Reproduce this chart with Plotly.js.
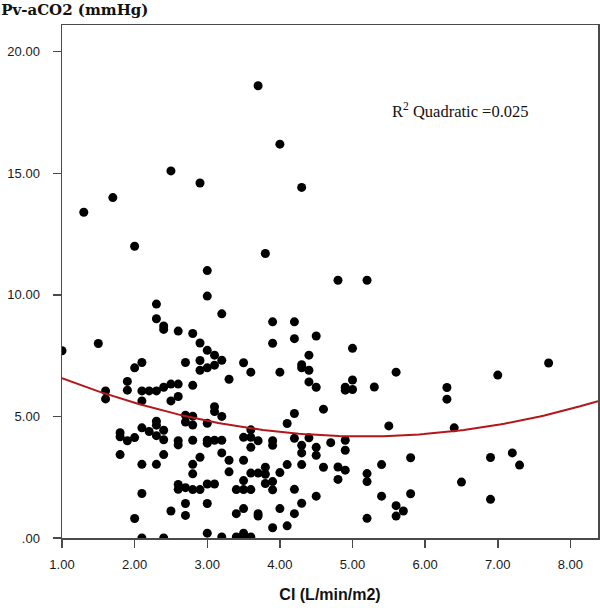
<!DOCTYPE html>
<html>
<head>
<meta charset="utf-8">
<script src="https://cdn.plot.ly/plotly-3.0.1.min.js"></script>
<style>html,body{margin:0;padding:0;background:#fff;}#chart{width:600px;height:608px;}</style>
</head>
<body>
<div id="chart"></div>
<script>
// CI (L/min/m2)
const ciValues = [
  1.0, 1.3, 1.5, 1.6, 1.6, 1.7, 1.8, 1.8, 1.8, 1.9, 1.9, 1.9,
  2.0, 2.0, 2.0, 2.0,
  2.1, 2.1, 2.1, 2.1, 2.1, 2.1, 2.1,
  2.2, 2.2,
  2.3, 2.3, 2.3, 2.3, 2.3, 2.3, 2.3,
  2.4, 2.4, 2.4, 2.4, 2.4, 2.4, 2.4,
  2.5, 2.5, 2.5, 2.5,
  2.6, 2.6, 2.6, 2.6, 2.6, 2.6, 2.6,
  2.7, 2.7, 2.7, 2.7, 2.7, 2.7,
  2.8, 2.8, 2.8, 2.8, 2.8, 2.8, 2.8, 2.8,
  2.9, 2.9, 2.9, 2.9, 2.9, 2.9,
  3.0, 3.0, 3.0, 3.0, 3.0, 3.0, 3.0, 3.0, 3.0, 3.0,
  3.1, 3.1, 3.1, 3.1, 3.1, 3.1,
  3.2, 3.2, 3.2, 3.2, 3.2, 3.2,
  3.3, 3.3, 3.3,
  3.4, 3.4, 3.4,
  3.5, 3.5, 3.5, 3.5, 3.5, 3.5, 3.5, 3.5,
  3.6, 3.6, 3.6, 3.6, 3.6, 3.6, 3.6,
  3.7, 3.7, 3.7, 3.7, 3.7,
  3.8, 3.8, 3.8, 3.8,
  3.9, 3.9, 3.9, 3.9, 3.9, 3.9, 3.9,
  4.0, 4.0, 4.0, 4.0,
  4.1, 4.1, 4.1,
  4.2, 4.2, 4.2, 4.2, 4.2, 4.2,
  4.3, 4.3, 4.3, 4.3, 4.3, 4.3, 4.3,
  4.4, 4.4, 4.4, 4.4,
  4.5, 4.5, 4.5, 4.5, 4.5,
  4.6, 4.6,
  4.7,
  4.8, 4.8, 4.8,
  4.9, 4.9, 4.9, 4.9, 4.9,
  5.0, 5.0, 5.0,
  5.2, 5.2, 5.2, 5.2,
  5.3,
  5.4, 5.4,
  5.5,
  5.6, 5.6, 5.6,
  5.7,
  5.8, 5.8,
  6.3, 6.3,
  6.4,
  6.5,
  6.9, 6.9,
  7.0,
  7.2,
  7.3,
  7.7
];
// Pv-aCO2 (mmHg)
const pvaco2Values = [
  7.7, 13.4, 8.0, 6.05, 5.72, 14.0, 4.33, 4.16, 3.43, 6.44, 6.08, 4.0,
  12.0, 7.0, 4.13, 0.8,
  7.22, 6.05, 5.64, 4.53, 3.03, 1.83, 0.0,
  6.05, 4.38,
  9.62, 9.02, 6.05, 4.8, 4.64, 4.21, 3.03,
  8.72, 8.58, 6.2, 4.43, 4.04, 3.43, 0.0,
  15.1, 6.33, 5.64, 1.11,
  8.51, 6.33, 5.82, 4.0, 3.83, 2.2, 2.0,
  7.22, 5.05, 4.77, 2.07, 1.42, 0.93,
  8.41, 6.28, 5.01, 4.65, 4.02, 3.03, 2.64, 1.99,
  14.6, 8.02, 7.3, 6.9, 3.32, 1.99,
  11.0, 9.95, 7.72, 7.0, 4.72, 4.02, 3.9, 2.22, 1.42, 0.2,
  7.52, 7.11, 5.4, 5.2, 4.02, 2.22,
  9.22, 7.31, 5.0, 4.02, 3.5, 0.04,
  6.53, 3.2, 2.72,
  1.99, 1.0, 0.04,
  7.21, 4.14, 3.2, 2.36, 1.99, 1.21, 0.2, 0.04,
  6.82, 4.45, 4.14, 3.73, 2.67, 1.99, 0.04,
  18.6, 4.0, 2.67, 1.0, 0.9,
  11.7, 2.91, 2.62, 2.24,
  8.89, 8.01, 4.0, 3.81, 2.32, 1.98, 0.42,
  16.2, 6.82, 2.69, 1.21,
  4.71, 3.02, 0.5,
  8.89, 8.2, 5.12, 4.1, 2.0, 1.0,
  14.42, 7.13, 7.0, 3.81, 3.5, 3.02, 1.43,
  7.52, 6.9, 6.42, 4.12,
  8.31, 6.2, 3.73, 3.4, 1.72,
  5.3, 2.91,
  3.92,
  10.6, 2.92, 2.41,
  6.2, 6.08, 4.02, 3.61, 2.79,
  7.8, 6.5, 6.11,
  10.6, 2.65, 2.32, 0.81,
  6.21,
  3.02, 1.72,
  4.61,
  6.82, 1.33, 0.9,
  1.11,
  3.3, 1.82,
  6.19, 5.71,
  4.53,
  2.3,
  3.31, 1.59,
  6.7,
  3.5,
  3.0,
  7.2
];
// Quadratic fit (SPSS): y = c0 + c1*x + c2*x^2
const quadFit = [7.867, -1.432, 0.139];
const fitRange = [1.0, 8.38];

const xTickVals = [1, 2, 3, 4, 5, 6, 7, 8];
const xTickText = ["1.00", "2.00", "3.00", "4.00", "5.00", "6.00", "7.00", "8.00"];
const yTickVals = [0, 5, 10, 15, 20];
const yTickText = [".00", "5.00", "10.00", "15.00", "20.00"];

const fitX = [], fitY = [];
const nSteps = 120;
for (let i = 0; i <= nSteps; i++) {
  const x = fitRange[0] + (fitRange[1] - fitRange[0]) * i / nSteps;
  fitX.push(x);
  fitY.push(quadFit[0] + quadFit[1] * x + quadFit[2] * x * x);
}

const traces = [
  {
    x: ciValues, y: pvaco2Values, type: 'scatter', mode: 'markers',
    marker: {color: '#000000', size: 9, line: {width: 0}},
    cliponaxis: true, hoverinfo: 'x+y'
  },
  {
    x: fitX, y: fitY, type: 'scatter', mode: 'lines',
    line: {color: '#b5161b', width: 2},
    hoverinfo: 'skip'
  }
];

const axisColor = '#4a4a4a';
const layout = {
  width: 600, height: 608,
  margin: {l: 62, r: 2, t: 25, b: 70, pad: 0},
  paper_bgcolor: '#ffffff', plot_bgcolor: '#ffffff',
  showlegend: false,
  font: {family: 'Liberation Sans, Arial, sans-serif', color: '#1a1a1a', size: 13},
  title: {
    text: '<b>Pv-aCO2 (mmHg)</b>',
    font: {family: 'DejaVu Serif, serif', size: 15, color: '#111111'},
    x: 0.002, xref: 'container', xanchor: 'left',
    y: 1 - 10 / 608, yref: 'container', yanchor: 'middle'
  },
  xaxis: {
    range: [1, 8.38], tickvals: xTickVals, ticktext: xTickText,
    showgrid: false, zeroline: false,
    showline: true, linecolor: axisColor, linewidth: 1.5, mirror: true,
    ticks: 'outside', ticklen: 8, tickwidth: 1.5, tickcolor: axisColor,
    ticklabelstandoff: 6,
    tickfont: {family: 'Liberation Sans, Arial, sans-serif', size: 13, color: '#1a1a1a'},
    title: {text: '<b>CI (L/min/m2)</b>', standoff: 17,
            font: {family: 'Liberation Sans, Arial, sans-serif', size: 16, color: '#111111'}}
  },
  yaxis: {
    range: [0, 21.1], tickvals: yTickVals, ticktext: yTickText,
    showgrid: false, zeroline: false,
    showline: true, linecolor: axisColor, linewidth: 1.5, mirror: true,
    ticks: 'outside', ticklen: 8, tickwidth: 1.5, tickcolor: axisColor,
    ticklabelstandoff: 10,
    tickfont: {family: 'Liberation Sans, Arial, sans-serif', size: 13, color: '#1a1a1a'}
  },
  annotations: [
    {
      text: 'R<sup>2</sup> Quadratic =0.025',
      xref: 'paper', yref: 'paper', x: 0.612, y: 0.834,
      xanchor: 'left', yanchor: 'middle', showarrow: false,
      font: {family: 'Liberation Serif, Times New Roman, serif', size: 16.5, color: '#111111'}
    }
  ]
};

Plotly.newPlot('chart', traces, layout, {displayModeBar: false, staticPlot: true});
</script>
</body>
</html>
